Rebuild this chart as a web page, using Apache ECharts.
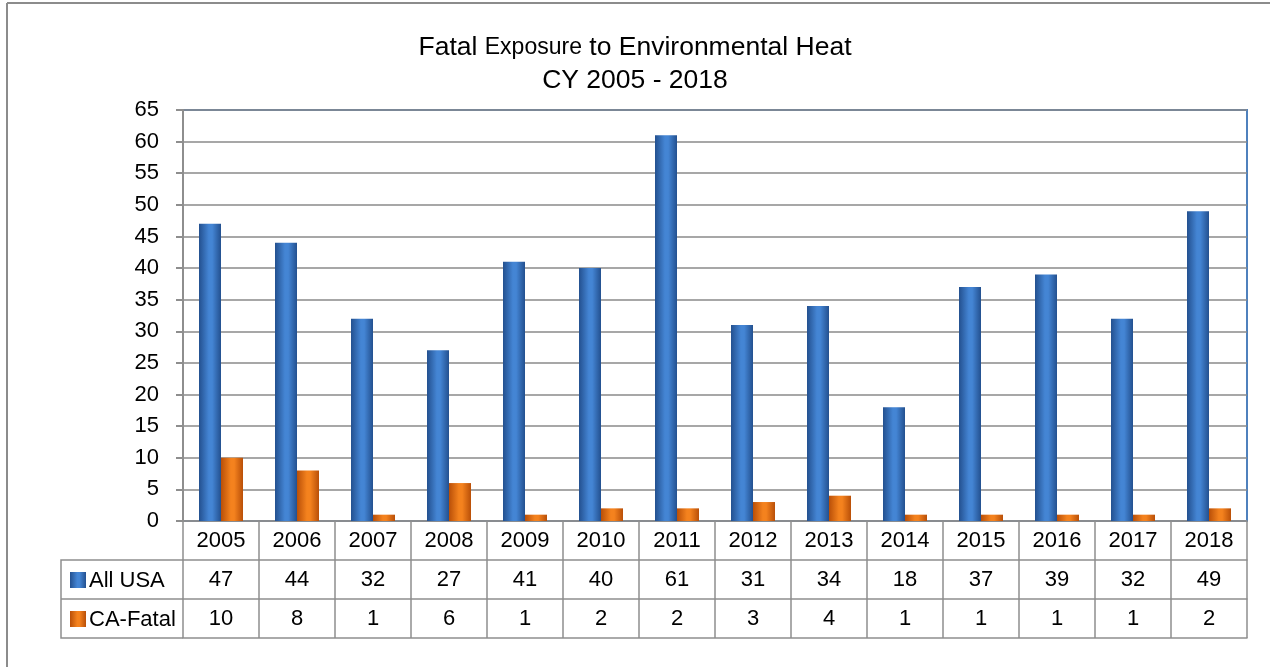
<!DOCTYPE html>
<html><head><meta charset="utf-8">
<script src="https://cdn.jsdelivr.net/npm/echarts@6/dist/echarts.min.js"></script>
<style>html,body{margin:0;padding:0;background:#fff}#c{width:1270px;height:667px}</style>
</head><body><div id="c"></div>
<script>
const years = ['2005','2006','2007','2008','2009','2010','2011','2012','2013','2014','2015','2016','2017','2018'];
const allUSA = [47,44,32,27,41,40,61,31,34,18,37,39,32,49];
const caFatal = [10,8,1,6,1,2,2,3,4,1,1,1,1,2];
const seriesNames = ['All USA','CA-Fatal'];
const titleLine1 = ['Fatal ','Exposure',' to Environmental Heat'];
const titleLine2 = 'CY 2005 - 2018';

const FONT = '"Liberation Sans",Arial,sans-serif';
const FS = 22;
const LINE = '#8e8e8e';
function grad(dark, light){
  return new echarts.graphic.LinearGradient(0,0,1,0,[
    {offset:0,color:dark},{offset:0.45,color:light},{offset:0.6,color:light},{offset:1,color:dark}]);
}
const blueGrad = () => grad('#23508f','#4485d4');
const orangeGrad = () => grad('#b94f08','#f4821e');

const chart = echarts.init(document.getElementById('c'));
const gL=183, gR=1247, gT=110, gB=521, row=39;
function tableAxis(offset, fmt, showTick){
  return {
    type:'category', data:years, position:'bottom', offset:offset,
    axisLine:{show:true,lineStyle:{color:LINE,width:1.5}},
    axisTick:{show:showTick,interval:0,length:row,alignWithLabel:false,lineStyle:{color:LINE,width:1.5}},
    axisLabel:{show:!!fmt,interval:0,formatter:fmt,margin:row/2,verticalAlign:'middle',
      fontFamily:FONT,fontSize:FS,color:'#000'}
  };
}
chart.setOption({
  animation:false,
  title:{
    text:'{a|'+titleLine1[0]+'}{b|'+titleLine1[1]+'}{a|'+titleLine1[2]+'}\n{a|'+titleLine2+'}',
    left:'center', top:26,
    textStyle:{fontWeight:'normal',rich:{
      a:{fontFamily:FONT,fontSize:26.5,fontWeight:'normal',color:'#000',lineHeight:33},
      b:{fontFamily:FONT,fontSize:23,fontWeight:'normal',color:'#000',lineHeight:33}
    }}
  },
  grid:{left:gL,right:1270-gR,top:gT,bottom:667-gB,show:true,borderColor:'#4f81bd',borderWidth:2},
  xAxis:[
    tableAxis(0,(v)=>v,true),
    tableAxis(row,(v,i)=>String(allUSA[i]),true),
    tableAxis(row*2,(v,i)=>String(caFatal[i]),true),
    tableAxis(row*3,null,false)
  ],
  yAxis:{
    type:'value',min:0,max:65,interval:5,
    axisLine:{show:true,lineStyle:{color:LINE,width:2}},
    axisTick:{show:true,length:7,lineStyle:{color:LINE,width:2}},
    axisLabel:{margin:24,fontFamily:FONT,fontSize:FS,color:'#000'},
    splitLine:{lineStyle:{color:'#8a8a8a',width:1.5}}
  },
  series:[
    {name:seriesNames[0],type:'bar',data:allUSA,barWidth:22,barGap:'0%',itemStyle:{color:blueGrad()}},
    {name:seriesNames[1],type:'bar',data:caFatal,barWidth:22,barGap:'0%',itemStyle:{color:orangeGrad()}}
  ],
  graphic:[
    {type:'line',shape:{x1:7,y1:3,x2:1270,y2:3},style:{stroke:'#8c8c8c',lineWidth:2}},
    {type:'line',shape:{x1:7,y1:3,x2:7,y2:667},style:{stroke:'#8c8c8c',lineWidth:2}},
    {type:'polyline',shape:{points:[[gL,gB+row],[61,gB+row],[61,gB+row*3],[gL,gB+row*3]]},style:{stroke:LINE,lineWidth:1.5,fill:null}},
    {type:'line',shape:{x1:61,y1:gB+row*2,x2:gL,y2:gB+row*2},style:{stroke:LINE,lineWidth:1.5}},
    {type:'rect',shape:{x:70,y:gB+row+12,width:16,height:16},style:{fill:blueGrad()}},
    {type:'rect',shape:{x:70,y:gB+row*2+12,width:16,height:16},style:{fill:orangeGrad()}},
    {type:'text',x:89,y:gB+row*1.5+1,style:{text:seriesNames[0],font:FS+'px '+FONT,fill:'#000',verticalAlign:'middle'}},
    {type:'text',x:89,y:gB+row*2.5+1,style:{text:seriesNames[1],font:FS+'px '+FONT,fill:'#000',verticalAlign:'middle'}}
  ]
});
</script></body></html>
